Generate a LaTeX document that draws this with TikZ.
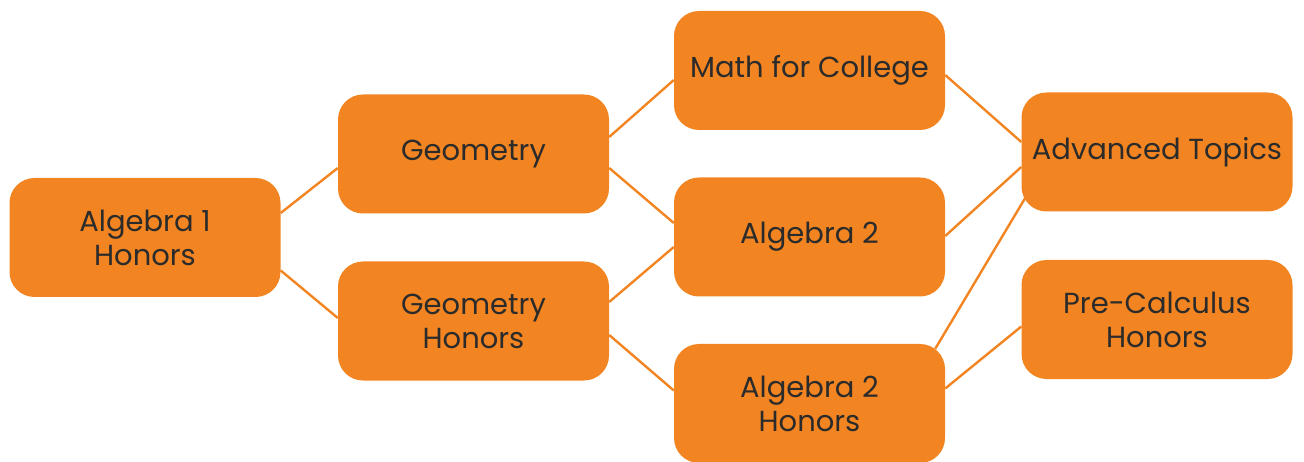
\documentclass[tikz,border=0pt]{standalone}
\usepackage{fontspec}
\setmainfont{Poppins}
\definecolor{boxorange}{HTML}{F28522}
\definecolor{txtgray}{HTML}{2B2B2B}
\begin{document}
\begin{tikzpicture}[x=1pt,y=1pt,
  course/.style={fill=boxorange,draw=none,rounded corners=25pt,minimum width=271pt,minimum height=119pt,inner sep=0pt,align=center,text=txtgray,font=\fontsize{29}{34}\selectfont},
  link/.style={draw=boxorange,line width=2.4pt}]
\useasboundingbox (0,0) rectangle (1304,-462);
\node[course] (alg1) at (145,-237.5) {Algebra 1\\Honors};
\node[course] (geo) at (473.5,-154) {Geometry};
\node[course] (geoh) at (473.5,-321) {Geometry\\Honors};
\node[course] (mfc) at (809.5,-70.5) {Math for College};
\node[course] (alg2) at (809.5,-237) {Algebra 2};
\node[course] (alg2h) at (809.5,-403.5) {Algebra 2\\Honors};
\node[course] (adv) at (1157,-152) {Advanced Topics};
\node[course] (pre) at (1157,-319.5) {Pre-Calculus\\Honors};
\draw[link] ([yshift=24.5pt]alg1.east) -- ([yshift=-14pt]geo.west);
\draw[link] ([yshift=-33pt]alg1.east) -- ([yshift=3pt]geoh.west);
\draw[link] ([yshift=17pt]geo.east) -- ([yshift=-9.5pt]mfc.west);
\draw[link] ([yshift=-14pt]geo.east) -- ([yshift=14pt]alg2.west);
\draw[link] ([yshift=19pt]geoh.east) -- ([yshift=-10pt]alg2.west);
\draw[link] ([yshift=-14pt]geoh.east) -- ([yshift=13pt]alg2h.west);
\draw[link] ([yshift=-4.5pt]mfc.east) -- ([yshift=10pt]adv.west);
\draw[link] ([yshift=1pt]alg2.east) -- ([yshift=-15pt]adv.west);
\draw[link] ([xshift=-10pt,yshift=-5pt]alg2h.north east) -- ([xshift=6pt,yshift=-42.5pt]adv.west);
\draw[link] ([yshift=15pt]alg2h.east) -- ([yshift=-7pt]pre.west);
\end{tikzpicture}
\end{document}
